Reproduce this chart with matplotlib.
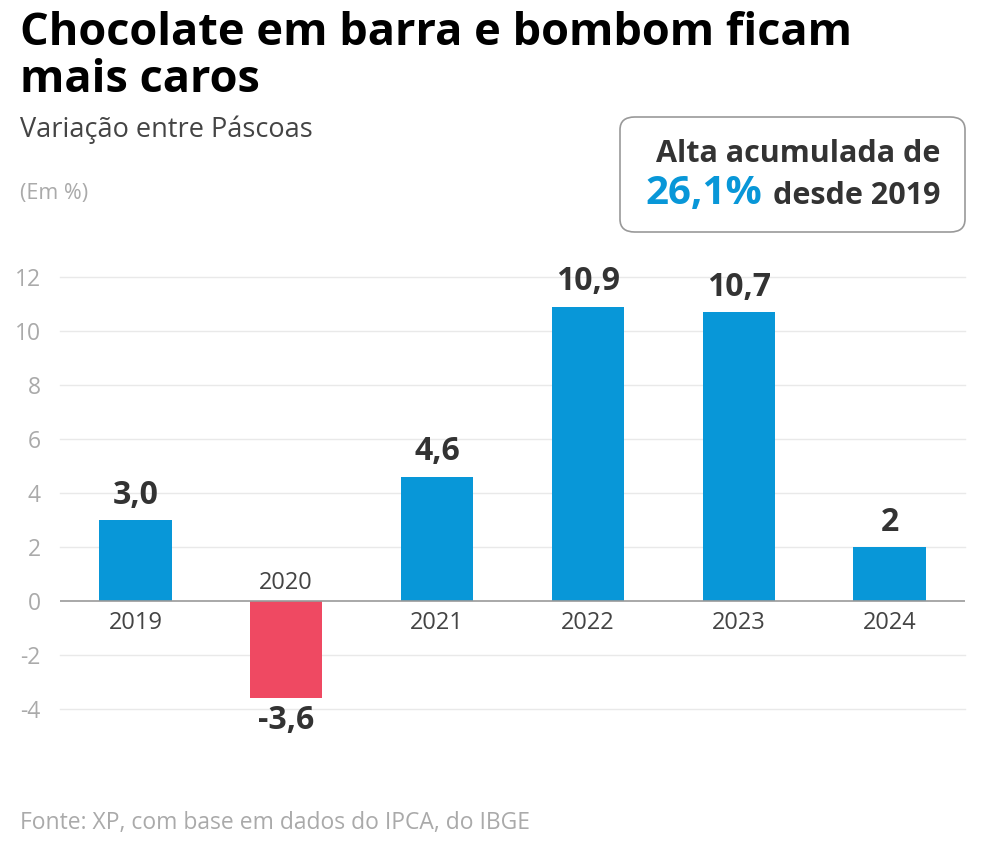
import matplotlib.pyplot as plt
from matplotlib.patches import FancyBboxPatch

plt.rcParams['font.family'] = ['Open Sans', 'DejaVu Sans']

# data
years = ['2019', '2020', '2021', '2022', '2023', '2024']
values = [3.0, -3.6, 4.6, 10.9, 10.7, 2.0]
value_labels = ['3,0', '-3,6', '4,6', '10,9', '10,7', '2']
yticks = [-4, -2, 0, 2, 4, 6, 8, 10, 12]

blue = '#0897d8'
red = '#ef4962'
dark = '#333333'

W, H = 984, 848
fig = plt.figure(figsize=(W / 100, H / 100), dpi=100)

# axes placed in pixel coords: x 60..965, y 277 (12) .. 709 (-4)
ax = fig.add_axes([60 / W, 1 - 709 / H, 905 / W, (709 - 277) / H])
x = list(range(len(years)))
colors = [blue if v >= 0 else red for v in values]
ax.bar(x, values, width=0.48, color=colors, zorder=3)
ax.set_xlim(-0.5, 5.5)
ax.set_ylim(-4, 12)
ax.set_yticks(yticks)
ax.set_yticklabels([str(t) for t in yticks], color='#aaaaaa', fontsize=16.5)
ax.tick_params(axis='y', length=0, pad=14)
ax.set_xticks([])
for s in ax.spines.values():
    s.set_visible(False)
for t in yticks:
    if t != 0:
        ax.axhline(t, color='#e9e9e9', lw=1, zorder=1, clip_on=False)
ax.axhline(0, color='#999999', lw=1.2, zorder=4)

for i, (v, lab) in enumerate(zip(values, value_labels)):
    if v >= 0:
        ax.annotate(lab, (i, v), xytext=(0, 6), textcoords='offset points',
                    ha='center', va='bottom', fontsize=23, fontweight='bold', color=dark)
        ax.annotate(years[i], (i, 0), xytext=(0, -7), textcoords='offset points',
                    ha='center', va='top', fontsize=17, color='#444444')
    else:
        ax.annotate(lab, (i, v), xytext=(0, -4), textcoords='offset points',
                    ha='center', va='top', fontsize=23, fontweight='bold', color=dark)
        ax.annotate(years[i], (i, 0), xytext=(0, 4), textcoords='offset points',
                    ha='center', va='bottom', fontsize=17, color='#444444')

# titles
fig.text(20 / W, 1 - 45 / H, 'Chocolate em barra e bombom ficam', fontsize=32.5,
         fontweight='bold', color='black', va='baseline')
fig.text(20 / W, 1 - 92 / H, 'mais caros', fontsize=32.5,
         fontweight='bold', color='black', va='baseline')
fig.text(20 / W, 1 - 137 / H, 'Variação entre Páscoas', fontsize=19.5,
         color='#444444', va='baseline')
fig.text(20 / W, 1 - 199 / H, '(Em %)', fontsize=15.5, color='#aaaaaa', va='baseline')
fig.text(20 / W, 1 - 829 / H, 'Fonte: XP, com base em dados do IPCA, do IBGE',
         fontsize=16.5, color='#aaaaaa', va='baseline')

# highlight box
box = FancyBboxPatch((620 / W, 1 - 232 / H), 345 / W, 115 / H,
                     boxstyle='round,pad=0,rounding_size=0.015',
                     transform=fig.transFigure, facecolor='white',
                     edgecolor='#999999', lw=1.2)
fig.patches.append(box)
fig.text(940 / W, 1 - 162 / H, 'Alta acumulada de', fontsize=22, fontweight='bold',
         color=dark, ha='right', va='baseline')
t2 = fig.text(940 / W, 1 - 204 / H, 'desde 2019', fontsize=22, fontweight='bold',
              color=dark, ha='right', va='baseline')
fig.canvas.draw()
bb = t2.get_window_extent()
fig.text((bb.x0 - 10) / W, 1 - 204 / H, '26,1%', fontsize=29, fontweight='bold',
         color=blue, ha='right', va='baseline')

fig.savefig('out.png', dpi=100)
